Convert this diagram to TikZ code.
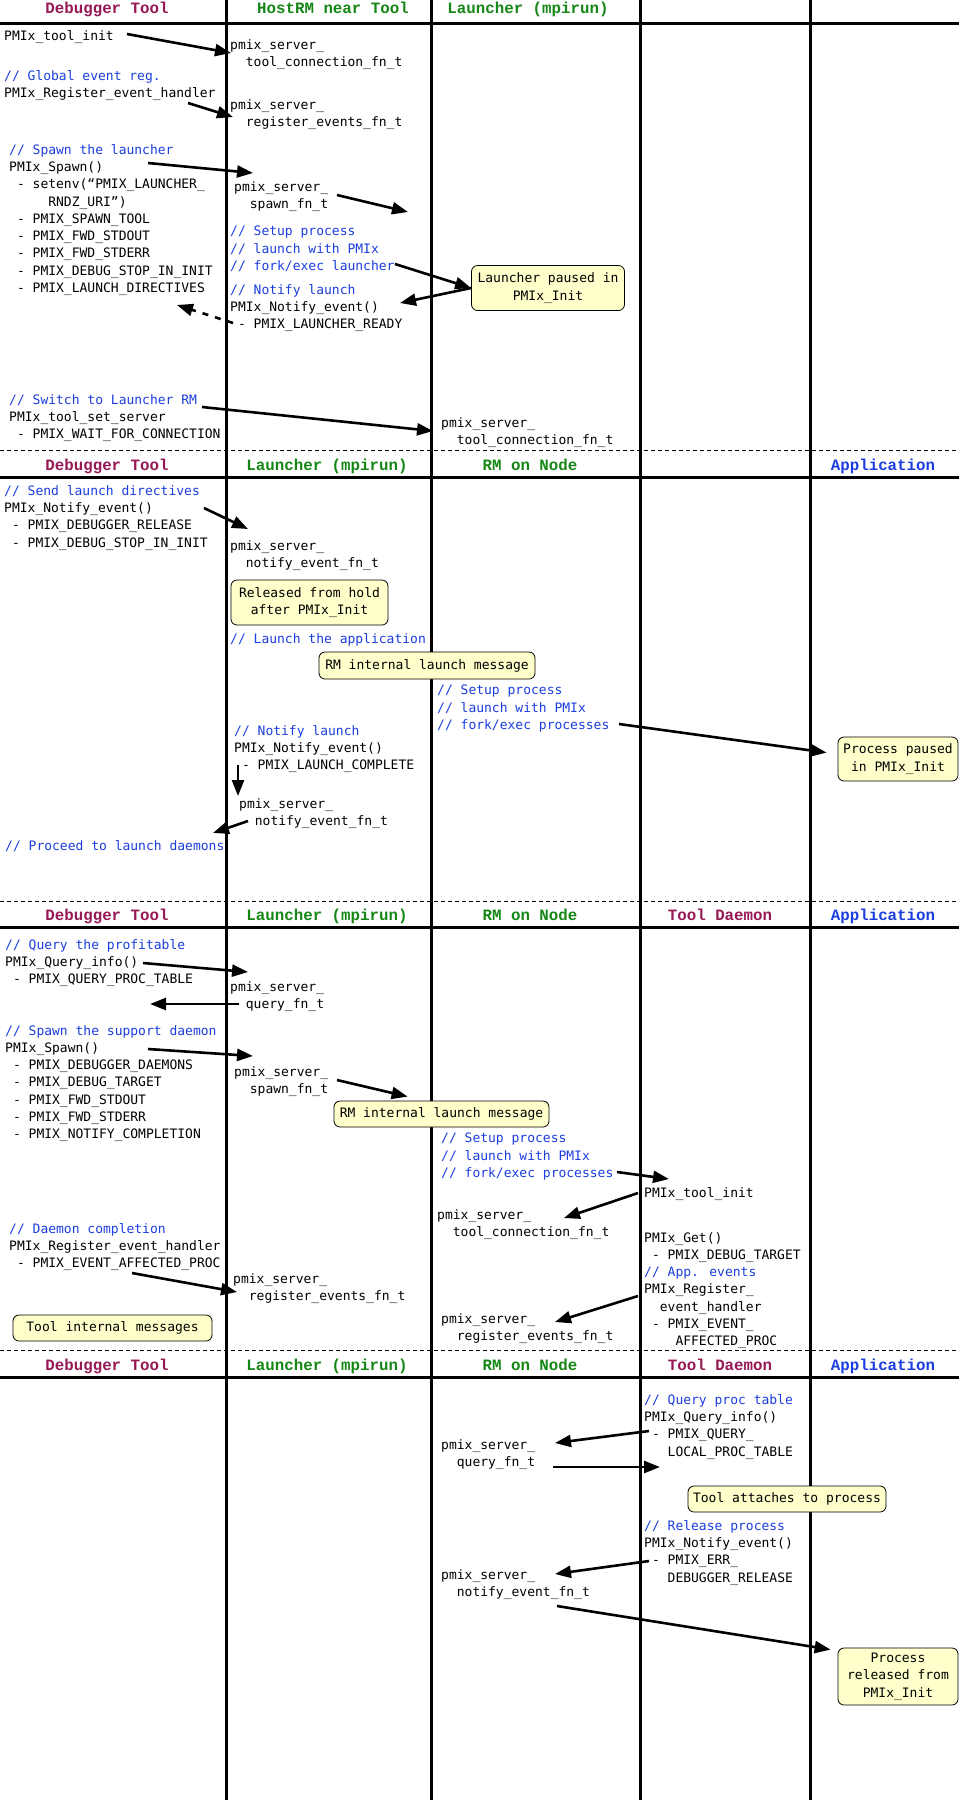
\documentclass[tikz,border=0pt]{standalone}
\usepackage{fontspec}
\usepackage{xcolor}
\usepackage{tikz}
\usetikzlibrary{arrows.meta}
\newfontfamily\codefont{DejaVu Sans Mono}
\newfontfamily\headfont{Liberation Mono}
\definecolor{cmtblue}{RGB}{28,62,222}
\definecolor{rmgreen}{RGB}{22,135,22}
\definecolor{toolred}{RGB}{150,25,85}
\definecolor{appblue}{RGB}{28,62,222}
\definecolor{notefill}{RGB}{255,255,204}
\newcommand{\cmt}[1]{\textcolor{cmtblue}{#1}}

\begin{document}
\begin{tikzpicture}[x=1pt, y=-1pt,
  lane/.style={line width=3pt},
  sep/.style={line width=0.9pt, dash pattern=on 4pt off 3pt},
  head/.style={font=\headfont\bfseries\fontsize{15.8}{18}\selectfont, anchor=base, inner sep=0pt},
  code/.style={font=\codefont\fontsize{13}{17.3}\selectfont, anchor=north west,
    inner sep=0pt, align=left},
  note/.style={draw, line width=0.8pt, rounded corners=6pt, fill=notefill, align=center,
    inner sep=0pt, font=\codefont\fontsize{13}{17.6}\selectfont},
  arr/.style={-{Triangle[length=16pt,width=12pt]}, line width=2.6pt},
  darr/.style={arr, dash pattern=on 6pt off 7pt}
]
\useasboundingbox (0,0) rectangle (959,1800);
\fill[white] (0,0) rectangle (959,1800);

% swim lanes and section rules
\foreach \x in {226,431,640,810}
  \draw[lane] (\x,0) -- (\x,1800);
\foreach \y in {23,477,927,1377}
  \draw[lane] (0,\y) -- (959,\y);
\foreach \y in {450,901,1350}
  \draw[sep] (0,\y) -- (959,\y);

% headers
\node[head, text=toolred] (dbga) at (107,13) {Debugger Tool};
\node[head, text=rmgreen] (hostrm) at (333,13) {HostRM near Tool};
\node[head, text=rmgreen] (lncha) at (528,13) {Launcher (mpirun)};
\foreach \y/\s in {470/b,920/c,1370/d} {
  \node[head, text=toolred] (dbg\s) at (107,\y) {Debugger Tool};
  \node[head, text=rmgreen] (lnch\s) at (327,\y) {Launcher (mpirun)};
  \node[head, text=rmgreen] (rmn\s) at (530,\y) {RM on Node};
  \node[head, text=appblue] (app\s) at (883,\y) {Application};
}
\foreach \y/\s in {920/c,1370/d}
  \node[head, text=toolred] (tdm\s) at (720,\y) {Tool Daemon};

% section 1: tool connects to host RM
\node[code] (tinit) at (4,30) {PMIx\_tool\_init};
\node[code] (gevent) at (4,70) {\cmt{// Global event reg.}\\PMIx\_Register\_event\_handler};
\node[code] (spawnl) at (9,144) {\cmt{// Spawn the launcher}\\PMIx\_Spawn()\\~-~setenv(“PMIX\_LAUNCHER\_\\~~~~~RNDZ\_URI”)\\~-~PMIX\_SPAWN\_TOOL\\~-~PMIX\_FWD\_STDOUT\\~-~PMIX\_FWD\_STDERR\\~-~PMIX\_DEBUG\_STOP\_IN\_INIT\\~-~PMIX\_LAUNCH\_DIRECTIVES};
\node[code] (switchrm) at (9,394) {\cmt{// Switch to Launcher RM}\\PMIx\_tool\_set\_server\\~-~PMIX\_WAIT\_FOR\_CONNECTION};
\node[code] (hconn) at (230,39) {pmix\_server\_\\~~tool\_connection\_fn\_t};
\node[code] (hregev) at (230,99) {pmix\_server\_\\~~register\_events\_fn\_t};
\node[code] (hspawn) at (234,181) {pmix\_server\_\\~~spawn\_fn\_t};
\node[code] (hsetup) at (230,226) {\cmt{// Setup process}\\\cmt{// launch with PMIx}\\\cmt{// fork/exec launcher}};
\node[code] (hnotify) at (230,284) {\cmt{// Notify launch}\\PMIx\_Notify\_event()\\~-~PMIX\_LAUNCHER\_READY};
\node[note, minimum width=153pt, minimum height=45pt] (lpaused) at (548,288) {Launcher paused in\\PMIx\_Init};
\node[code] (lconn) at (441,417) {pmix\_server\_\\~~tool\_connection\_fn\_t};
\coordinate (spawnfwd) at (408,212);

% section 2: launcher starts the application
\node[code] (sendld) at (4,485) {\cmt{// Send launch directives}\\PMIx\_Notify\_event()\\~-~PMIX\_DEBUGGER\_RELEASE\\~-~PMIX\_DEBUG\_STOP\_IN\_INIT};
\node[code] (lnotify) at (230,540) {pmix\_server\_\\~~notify\_event\_fn\_t};
\node[note, minimum width=157pt, minimum height=45pt] (lreleased) at (309.5,602.5) {Released from hold\\after PMIx\_Init};
\node[code] (lapp) at (230,633) {\cmt{// Launch the application}};
\node[note, minimum width=216pt, minimum height=27pt] (rmmsga) at (427,665.5) {RM internal launch message};
\node[code] (nsetup) at (437,685) {\cmt{// Setup process}\\\cmt{// launch with PMIx}\\\cmt{// fork/exec processes}};
\node[note, minimum width=120pt, minimum height=44pt] (apaused) at (898,759) {Process paused\\in PMIx\_Init};
\node[code] (lcomplete) at (234,725) {\cmt{// Notify launch}\\PMIx\_Notify\_event()\\~-~PMIX\_LAUNCH\_COMPLETE};
\node[code] (lnotifyb) at (239,798) {pmix\_server\_\\~~notify\_event\_fn\_t};
\node[code] (proceed) at (5,840) {\cmt{// Proceed to launch daemons}};

% section 3: daemons are spawned
\node[code] (qtable) at (5,939) {\cmt{// Query the profitable}\\PMIx\_Query\_info()\\~-~PMIX\_QUERY\_PROC\_TABLE};
\node[code] (lquery) at (230,981) {pmix\_server\_\\~~query\_fn\_t};
\node[code] (spawnd) at (5,1025) {\cmt{// Spawn the support daemon}\\PMIx\_Spawn()\\~-~PMIX\_DEBUGGER\_DAEMONS\\~-~PMIX\_DEBUG\_TARGET\\~-~PMIX\_FWD\_STDOUT\\~-~PMIX\_FWD\_STDERR\\~-~PMIX\_NOTIFY\_COMPLETION};
\node[code] (lspawn) at (234,1066) {pmix\_server\_\\~~spawn\_fn\_t};
\node[note, minimum width=215pt, minimum height=26pt] (rmmsgb) at (441.5,1114) {RM internal launch message};
\node[code] (dsetup) at (441,1133) {\cmt{// Setup process}\\\cmt{// launch with PMIx}\\\cmt{// fork/exec processes}};
\node[code] (dinit) at (644,1187) {PMIx\_tool\_init};
\node[code] (nconn) at (437,1209) {pmix\_server\_\\~~tool\_connection\_fn\_t};
\node[code] (dget) at (644,1232) {PMIx\_Get()\\~-~PMIX\_DEBUG\_TARGET\\\cmt{// App. events}\\PMIx\_Register\_\\~~event\_handler\\~-~PMIX\_EVENT\_\\~~~~AFFECTED\_PROC};
\node[code] (nregev) at (441,1313) {pmix\_server\_\\~~register\_events\_fn\_t};
\node[code] (dcomplete) at (9,1223) {\cmt{// Daemon completion}\\PMIx\_Register\_event\_handler\\~-~PMIX\_EVENT\_AFFECTED\_PROC};
\node[code] (lregev) at (233,1273) {pmix\_server\_\\~~register\_events\_fn\_t};
\node[note, minimum width=199pt, minimum height=26pt] (toolmsg) at (112.5,1328) {Tool internal messages};

% section 4: daemon attaches and releases
\node[code] (dquery) at (644,1394) {\cmt{// Query proc table}\\PMIx\_Query\_info()\\~-~PMIX\_QUERY\_\\~~~LOCAL\_PROC\_TABLE};
\node[code] (nquery) at (441,1439) {pmix\_server\_\\~~query\_fn\_t};
\node[note, minimum width=198pt, minimum height=26pt] (attach) at (787,1499) {Tool attaches to process};
\node[code] (drelease) at (644,1520) {\cmt{// Release process}\\PMIx\_Notify\_event()\\~-~PMIX\_ERR\_\\~~~DEBUGGER\_RELEASE};
\node[code] (nnotify) at (441,1569) {pmix\_server\_\\~~notify\_event\_fn\_t};
\node[note, minimum width=120pt, minimum height=57pt] (areleased) at (898,1676.5) {Process\\released from\\PMIx\_Init};

% messages
\draw[arr] ([shift={(123,4)}]tinit.north west) -- ([shift={(1,14)}]hconn.north west);
\draw[arr] ([shift={(184,33)}]gevent.north west) -- ([shift={(3,18)}]hregev.north west);
\draw[arr] ([shift={(139,19)}]spawnl.north west) -- ([shift={(19,-8)}]hspawn.north west);
\draw[arr] ([shift={(103,14)}]hspawn.north west) -- (spawnfwd);
\draw[arr] ([shift={(165,38)}]hsetup.north west) -- (lpaused.west);
\draw[arr] (lpaused.west) -- ([shift={(170,19)}]hnotify.north west);
\draw[darr] ([shift={(3,39)}]hnotify.north west) -- ([shift={(168,161)}]spawnl.north west);
\draw[arr] ([shift={(193,13)}]switchrm.north west) -- ([shift={(-8,14)}]lconn.north west);
\draw[arr] ([shift={(200,23)}]sendld.north west) -- ([shift={(18,-11)}]lnotify.north west);
\draw[arr] ([shift={(182,39)}]nsetup.north west) -- ([shift={(-11,16)}]apaused.north west);
\draw[arr] ([shift={(4,40)}]lcomplete.north west) -- ([shift={(-1,-2)}]lnotifyb.north west);
\draw[arr] ([shift={(9,23)}]lnotifyb.north west) -- ([shift={(208,-7)}]proceed.north west);
\draw[arr] ([shift={(138,24)}]qtable.north west) -- ([shift={(18,-9)}]lquery.north west);
\draw[arr] ([shift={(9,23)}]lquery.north west) -- ([shift={(145,65)}]qtable.north west);
\draw[arr] ([shift={(143,24)}]spawnd.north west) -- ([shift={(19,-10)}]lspawn.north west);
\draw[arr] ([shift={(103,14)}]lspawn.north west) -- ([shift={(74,-4)}]rmmsgb.north west);
\draw[arr] ([shift={(176,39)}]dsetup.north west) -- ([shift={(25,-8)}]dinit.north west);
\draw[arr] ([shift={(-6,6)}]dinit.north west) -- ([shift={(127,9)}]nconn.north west);
\draw[arr] ([shift={(-6,64)}]dget.north west) -- ([shift={(114,9)}]nregev.north west);
\draw[arr] ([shift={(123,50)}]dcomplete.north west) -- ([shift={(4,19)}]lregev.north west);
\draw[arr] ([shift={(5,37)}]dquery.north west) -- ([shift={(114,4)}]nquery.north west);
\draw[arr] ([shift={(112,28)}]nquery.north west) -- ([shift={(16,73)}]dquery.north west);
\draw[arr] ([shift={(5,41)}]drelease.north west) -- ([shift={(114,5)}]nnotify.north west);
\draw[arr] ([shift={(116,37)}]nnotify.north west) -- ([shift={(-7,2)}]areleased.north west);
\end{tikzpicture}
\end{document}
